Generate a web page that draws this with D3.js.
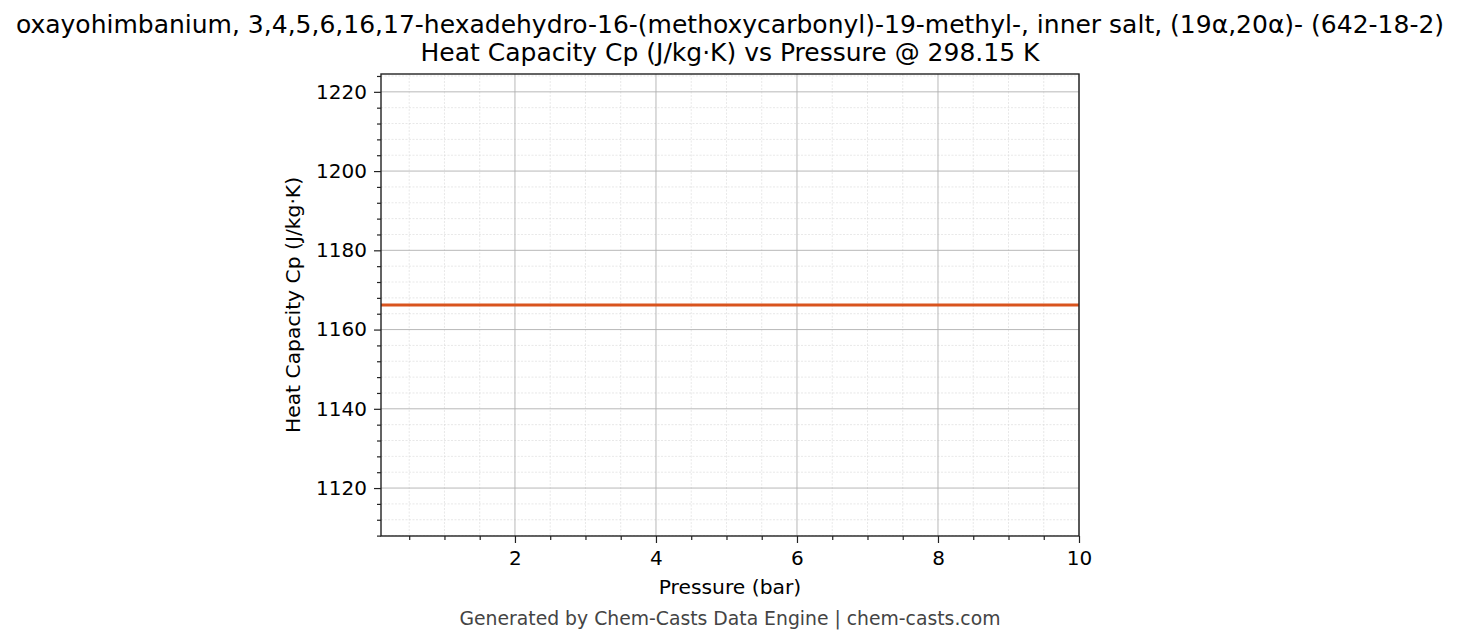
<!DOCTYPE html>
<html>
<head>
    <meta charset="utf-8">
    <title></title>
    <style>
        body { margin: 0; background: #fff; }
        text { font-family: "DejaVu Sans", sans-serif; fill: #000; }
    </style>
</head>
<body>
    <script src="https://cdn.jsdelivr.net/npm/d3@7"></script>
    <script>
        var titleLines = [
            "oxayohimbanium, 3,4,5,6,16,17-hexadehydro-16-(methoxycarbonyl)-19-methyl-, inner salt, (19\u03b1,20\u03b1)- (642-18-2)",
            "Heat Capacity Cp (J/kg\u00b7K) vs Pressure @ 298.15 K"
        ];
        var pressure = [0.1, 1, 2, 3, 4, 5, 6, 7, 8, 9, 10];
        var heatCapacity = [1166.2, 1166.2, 1166.2, 1166.2, 1166.2, 1166.2, 1166.2, 1166.2, 1166.2, 1166.2, 1166.2];
        var xTicks = [2, 4, 6, 8, 10];
        var yTicks = [1120, 1140, 1160, 1180, 1200, 1220];

        var width = 1460, height = 644;
        var margin = { left: 381, right: 1079, top: 74, bottom: 536 };

        var svg = d3.select("body").append("svg")
            .attr("width", width)
            .attr("height", height);

        var x = d3.scaleLinear().domain([0.1, 10]).range([margin.left, margin.right]);
        var yMid = 1166.2;
        var y = d3.scaleLinear().domain([yMid - 58.3, yMid + 58.3]).range([margin.bottom, margin.top]);

        // minor grid
        var xMinor = d3.range(0.5, 10.01, 0.5).filter(function(v) { return xTicks.indexOf(v) < 0; });
        var yMinor = d3.range(1108, 1225, 4).filter(function(v) { return yTicks.indexOf(v) < 0; });
        var grid = svg.append("g");
        grid.selectAll(".xminor").data(xMinor).enter().append("line")
            .attr("x1", x).attr("x2", x)
            .attr("y1", margin.top).attr("y2", margin.bottom)
            .attr("stroke", "#d8d8d8").attr("stroke-width", 0.6).attr("stroke-dasharray", "2,1.5");
        grid.selectAll(".yminor").data(yMinor).enter().append("line")
            .attr("y1", y).attr("y2", y)
            .attr("x1", margin.left).attr("x2", margin.right)
            .attr("stroke", "#d8d8d8").attr("stroke-width", 0.6).attr("stroke-dasharray", "2,1.5");
        grid.selectAll(".xmajor").data(xTicks).enter().append("line")
            .attr("x1", x).attr("x2", x)
            .attr("y1", margin.top).attr("y2", margin.bottom)
            .attr("stroke", "#b0b0b0").attr("stroke-width", 0.9);
        grid.selectAll(".ymajor").data(yTicks).enter().append("line")
            .attr("y1", y).attr("y2", y)
            .attr("x1", margin.left).attr("x2", margin.right)
            .attr("stroke", "#b0b0b0").attr("stroke-width", 0.9);

        // data line
        var line = d3.line()
            .x(function(d, i) { return x(pressure[i]); })
            .y(function(d) { return y(d); });
        svg.append("path")
            .datum(heatCapacity)
            .attr("d", line)
            .attr("fill", "none")
            .attr("stroke", "#d9541e")
            .attr("stroke-width", 3.2);

        // axes
        svg.append("g")
            .attr("transform", "translate(0," + margin.bottom + ")")
            .call(d3.axisBottom(x).tickValues(xTicks).tickSize(7).tickPadding(8).tickFormat(d3.format("d")));
        svg.append("g")
            .attr("transform", "translate(0," + margin.bottom + ")")
            .call(d3.axisBottom(x).tickValues(xMinor).tickSize(4).tickFormat(""));
        svg.append("g")
            .attr("transform", "translate(" + margin.left + ",0)")
            .call(d3.axisLeft(y).tickValues(yTicks).tickSize(7).tickPadding(7).tickFormat(d3.format("d")));
        svg.append("g")
            .attr("transform", "translate(" + margin.left + ",0)")
            .call(d3.axisLeft(y).tickValues(yMinor).tickSize(4).tickFormat(""));
        svg.selectAll(".domain").remove();
        svg.selectAll(".tick line").attr("stroke", "#222").attr("stroke-width", 1.2);
        svg.selectAll(".tick text").attr("font-size", "20px").attr("font-family", "DejaVu Sans").attr("fill", "#000");

        // frame
        svg.append("rect")
            .attr("x", margin.left).attr("y", margin.top)
            .attr("width", margin.right - margin.left)
            .attr("height", margin.bottom - margin.top)
            .attr("fill", "none").attr("stroke", "#222").attr("stroke-width", 1.4);

        // titles
        svg.selectAll(".title").data(titleLines).enter().append("text")
            .attr("x", 730)
            .attr("y", function(d, i) { return 33 + i * 28; })
            .attr("text-anchor", "middle")
            .attr("font-size", "25px")
            .text(function(d) { return d; });

        svg.append("text")
            .attr("x", (margin.left + margin.right) / 2)
            .attr("y", 594)
            .attr("text-anchor", "middle")
            .attr("font-size", "20.3px")
            .text("Pressure (bar)");

        svg.append("text")
            .attr("transform", "translate(300," + ((margin.top + margin.bottom) / 2) + ") rotate(-90)")
            .attr("text-anchor", "middle")
            .attr("font-size", "20.3px")
            .text("Heat Capacity Cp (J/kg\u00b7K)");

        svg.append("text")
            .attr("x", 730)
            .attr("y", 625)
            .attr("text-anchor", "middle")
            .attr("font-size", "18.8px")
            .style("fill", "#444")
            .text("Generated by Chem-Casts Data Engine | chem-casts.com");
    </script>
</body>
</html>
